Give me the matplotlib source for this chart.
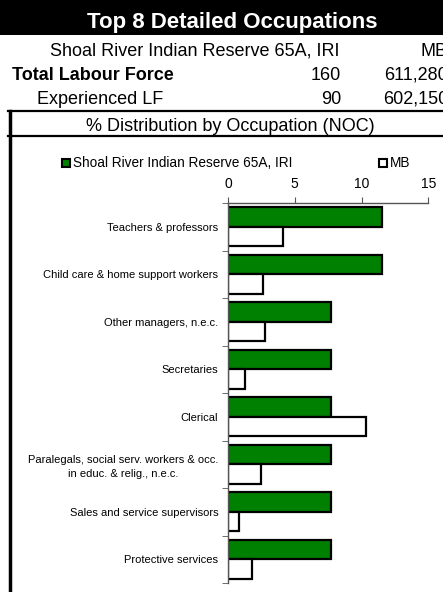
import matplotlib
matplotlib.use("Agg")
import matplotlib.pyplot as plt
import matplotlib.patches as mpatches
from matplotlib.lines import Line2D
import numpy as np

plt.rcParams["font.family"] = ["Liberation Sans", "DejaVu Sans"]

W, H = 443, 592

# data
occupations = [
    "Teachers & professors",
    "Child care & home support workers",
    "Other managers, n.e.c.",
    "Secretaries",
    "Clerical",
    "Paralegals, social serv. workers & occ.\nin educ. & relig., n.e.c.",
    "Sales and service supervisors",
    "Protective services",
]
reserve_pct = [11.5, 11.5, 7.7, 7.7, 7.7, 7.7, 7.7, 7.7]
mb_pct      = [4.1, 2.6, 2.8, 1.3, 10.3, 2.5, 0.8, 1.8]

area_name   = "Shoal River Indian Reserve 65A, IRI"
prov_name   = "MB"
labour_rows = ["Total Labour Force", "Experienced LF"]
area_counts = ["160", "90"]
prov_counts = ["611,280", "602,150"]
x_ticks     = [0, 5, 10, 15]

GREEN = "#008000"


def fx(x):
    return x / W


def fy(y):
    return 1 - y / H


fig = plt.figure(figsize=(W / 100, H / 100), dpi=100)

# ── header table ─────────────────────────────────────────────────────────────
fig.add_artist(mpatches.Rectangle((0, fy(35)), 1, 35 / H, transform=fig.transFigure,
                                  facecolor="black", edgecolor="none"))
fig.text(fx(232), fy(28), "Top 8 Detailed Occupations", color="white",
         fontsize=16, fontweight="bold", ha="center", va="baseline")

# the right-hand column runs past the crop edge, as in the source sheet
fig.text(fx(340), fy(55.5), area_name, fontsize=13, ha="right", va="baseline")
fig.text(fx(448), fy(55.5), prov_name, fontsize=13, ha="right", va="baseline")

fig.text(fx(12), fy(80), labour_rows[0], fontsize=13, fontweight="bold",
         ha="left", va="baseline")
fig.text(fx(37), fy(103.5), labour_rows[1], fontsize=13, ha="left", va="baseline")
for yb, a, p in zip([80, 103.5], area_counts, prov_counts):
    fig.text(fx(341), fy(yb), a, fontsize=13, ha="right", va="baseline")
    fig.text(fx(448), fy(yb), p, fontsize=13, ha="right", va="baseline")

fig.text(fx(230), fy(131), "% Distribution by Occupation (NOC)", fontsize=13,
         ha="center", va="baseline")

for yl in [111, 136]:
    fig.add_artist(Line2D([fx(8), 1], [fy(yl), fy(yl)], color="black", lw=1.6,
                          transform=fig.transFigure))
fig.add_artist(Line2D([fx(9.5), fx(9.5)], [fy(111), 0], color="black", lw=2.5,
                      transform=fig.transFigure))

# ── bar chart ────────────────────────────────────────────────────────────────
ax = fig.add_axes([fx(228), fy(583), (428.3 - 228) / W, (583 - 203) / H])
y = np.arange(len(occupations))
h = 0.41
ax.barh(y - h / 2, reserve_pct, h, color=GREEN, edgecolor="black", linewidth=1.6)
ax.barh(y + h / 2, mb_pct, h, color="white", edgecolor="black", linewidth=1.6)

ax.set_xlim(0, 15)
ax.set_ylim(len(occupations) - 0.5, -0.5)
ax.xaxis.tick_top()
ax.set_xticks(x_ticks)
ax.tick_params(axis="x", labelsize=10, length=4, pad=5, color="#555555")

ax.set_yticks(y)
ax.set_yticklabels(occupations, fontsize=8)
for lab in ax.get_yticklabels():
    lab.set_multialignment("center")
    lab.set_linespacing(1.5)
ax.tick_params(axis="y", which="major", length=0, pad=7)
ax.set_yticks(np.arange(-0.5, len(occupations)), minor=True)
ax.tick_params(axis="y", which="minor", length=4, color="#555555")

for s in ["right", "bottom"]:
    ax.spines[s].set_visible(False)
for s in ["top", "left"]:
    ax.spines[s].set_color("#555555")
    ax.spines[s].set_linewidth(1.0)
ax.set_facecolor("none")

# legend drawn by hand to match the spreadsheet layout
for x0, label in [(62, area_name), (379, prov_name)]:
    fc = GREEN if label == area_name else "white"
    fig.add_artist(mpatches.Rectangle((fx(x0), fy(167)), 7.5 / W, 7.5 / H,
                                      transform=fig.transFigure, facecolor=fc,
                                      edgecolor="black", linewidth=1.5))
    fig.text(fx(x0 + 11), fy(163), label, fontsize=9.8, ha="left", va="center")

fig.savefig("out.png", dpi=100)
